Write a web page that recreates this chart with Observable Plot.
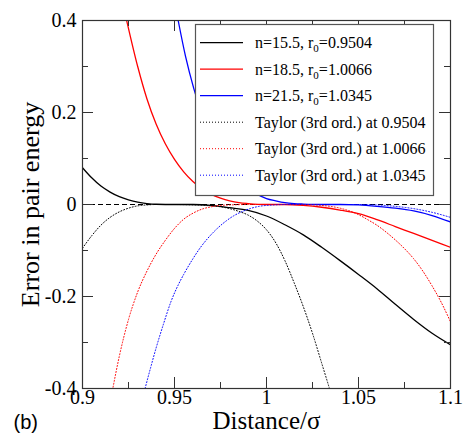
<!DOCTYPE html>
<html>
<head>
<meta charset="utf-8">
<script src="https://cdn.jsdelivr.net/npm/d3@7"></script>
<script src="https://cdn.jsdelivr.net/npm/@observablehq/plot@0.6"></script>
<style>
  html, body { margin: 0; padding: 0; background: #fff; }
</style>
</head>
<body>
<div id="chart"></div>
<script>
// ---- tick values ----
const xTicks = [0.9, 0.95, 1, 1.05, 1.1];
const xMinor = [0.925, 0.975, 1.025, 1.075];
const yTicks = [-0.4, -0.2, 0, 0.2, 0.4];
const yMinor = [-0.3, -0.1, 0.1, 0.3];

// ---- legend text ----
const nValues = [15.5, 18.5, 21.5];
const r0Labels = ["0.9504", "1.0066", "1.0345"];
const colors = ["#000000", "#ff0000", "#0000ff"];

// ---- series (x, error) ----
const blackSolid = [
  [0.900, 0.080], [0.905, 0.058], [0.910, 0.040], [0.915, 0.027], [0.920, 0.017],
  [0.925, 0.010], [0.930, 0.005], [0.935, 0.002], [0.940, 0.0005], [0.950, 0],
  [0.960, 0], [0.970, -0.002], [0.980, -0.007], [0.990, -0.013], [1.000, -0.025],
  [1.010, -0.044], [1.020, -0.066], [1.030, -0.093], [1.040, -0.122], [1.050, -0.152],
  [1.060, -0.183], [1.070, -0.217], [1.080, -0.250], [1.090, -0.280], [1.100, -0.305]
];
const redSolid = [
  [0.924, 0.400], [0.930, 0.300], [0.935, 0.230], [0.940, 0.175], [0.945, 0.132],
  [0.950, 0.098], [0.955, 0.071], [0.960, 0.050], [0.965, 0.034], [0.970, 0.022],
  [0.975, 0.014], [0.980, 0.008], [0.985, 0.004], [0.990, 0.002], [1.000, 0],
  [1.010, 0], [1.020, -0.002], [1.030, -0.006], [1.040, -0.012], [1.050, -0.020],
  [1.060, -0.033], [1.070, -0.048], [1.080, -0.063], [1.090, -0.078], [1.100, -0.093]
];
const blueSolid = [
  [0.952, 0.400], [0.956, 0.322], [0.9605, 0.252], [0.965, 0.195], [0.970, 0.145],
  [0.975, 0.105], [0.980, 0.075], [0.985, 0.052], [0.990, 0.035], [0.995, 0.022],
  [1.000, 0.013], [1.005, 0.008], [1.010, 0.004], [1.015, 0.002], [1.020, 0.001],
  [1.030, 0], [1.040, 0], [1.050, -0.001], [1.060, -0.004], [1.070, -0.008],
  [1.080, -0.014], [1.090, -0.024], [1.100, -0.038]
];
const blackTaylor = [
  [0.900, -0.095], [0.905, -0.068], [0.910, -0.045], [0.915, -0.028], [0.920, -0.016],
  [0.925, -0.008], [0.930, -0.003], [0.935, -0.001], [0.940, 0], [0.950, 0],
  [0.960, -0.001], [0.970, -0.003], [0.975, -0.005], [0.980, -0.009], [0.985, -0.015],
  [0.990, -0.023], [0.995, -0.036], [1.000, -0.055], [1.005, -0.083], [1.010, -0.122],
  [1.015, -0.170], [1.020, -0.222], [1.025, -0.280], [1.030, -0.345], [1.035, -0.410]
];
const redTaylor = [
  [0.916, -0.410], [0.920, -0.330], [0.925, -0.250], [0.930, -0.190], [0.935, -0.145],
  [0.940, -0.108], [0.945, -0.078], [0.950, -0.052], [0.955, -0.032], [0.960, -0.019],
  [0.965, -0.010], [0.970, -0.005], [0.975, -0.002], [0.980, -0.001], [0.990, 0],
  [1.000, 0], [1.010, 0], [1.020, 0], [1.030, -0.002], [1.040, -0.008],
  [1.050, -0.022], [1.055, -0.033], [1.060, -0.045], [1.065, -0.060], [1.070, -0.077],
  [1.075, -0.096], [1.080, -0.118], [1.085, -0.145], [1.090, -0.177], [1.095, -0.213],
  [1.100, -0.255]
];
const blueTaylor = [
  [0.934, -0.400], [0.937, -0.355], [0.940, -0.312], [0.944, -0.260], [0.948, -0.212],
  [0.952, -0.175], [0.955, -0.152], [0.960, -0.118], [0.964, -0.094], [0.968, -0.074],
  [0.973, -0.053], [0.978, -0.036], [0.982, -0.025], [0.987, -0.015], [0.991, -0.009],
  [0.996, -0.004], [1.004, -0.001], [1.010, 0], [1.020, 0], [1.030, 0],
  [1.040, 0], [1.050, 0], [1.060, -0.001], [1.070, -0.004], [1.080, -0.009],
  [1.090, -0.017], [1.100, -0.028]
];

const solids = [blackSolid, redSolid, blueSolid];
const taylors = [blackTaylor, redTaylor, blueTaylor];

const W = 464, H = 434;
const mL = 82, mR = 14, mT = 20, mB = 46;
const frameH = H - mT - mB;
const frameW = W - mL - mR;
const majorLen = 11, minorLen = 6;
const serif = "Liberation Serif";

const lineMarks = [];
solids.forEach((s, i) => {
  lineMarks.push(Plot.line(s, {x: d => d[0], y: d => d[1], stroke: colors[i], strokeWidth: 1.3, curve: "monotone-x", clip: true}));
});
taylors.forEach((s, i) => {
  lineMarks.push(Plot.line(s, {x: d => d[0], y: d => d[1], stroke: colors[i], strokeWidth: 1, strokeDasharray: "1 2", curve: "monotone-x", clip: true}));
});

const chart = Plot.plot({
  width: W,
  height: H,
  marginLeft: mL, marginRight: mR, marginTop: mT, marginBottom: mB,
  style: {fontFamily: serif, fontSize: "20px", background: "#fff", color: "#000"},
  x: {domain: [0.9, 1.1]},
  y: {domain: [-0.4, 0.4]},
  marks: [
    Plot.ruleY([0], {stroke: "#000", strokeWidth: 1, strokeDasharray: "5 3"}),
    ...lineMarks,
    // inward ticks: bottom, top
    Plot.ruleX(xTicks, {x: d => d, insetTop: frameH - majorLen, stroke: "#333"}),
    Plot.ruleX(xMinor, {x: d => d, insetTop: frameH - minorLen, stroke: "#333"}),
    Plot.ruleX(xTicks, {x: d => d, insetBottom: frameH - majorLen, stroke: "#333"}),
    Plot.ruleX(xMinor, {x: d => d, insetBottom: frameH - minorLen, stroke: "#333"}),
    // inward ticks: left, right
    Plot.ruleY(yTicks, {y: d => d, insetRight: frameW - majorLen, stroke: "#333"}),
    Plot.ruleY(yMinor, {y: d => d, insetRight: frameW - minorLen, stroke: "#333"}),
    Plot.ruleY(yTicks, {y: d => d, insetLeft: frameW - majorLen, stroke: "#333"}),
    Plot.ruleY(yMinor, {y: d => d, insetLeft: frameW - minorLen, stroke: "#333"}),
    Plot.frame({stroke: "#333", strokeWidth: 1.2}),
    Plot.axisX({ticks: xTicks, tickSize: 0, tickPadding: 1, tickFormat: d => String(d), fontSize: 20, fontFamily: serif, label: null}),
    Plot.axisY({ticks: yTicks, tickSize: 0, tickPadding: 6, tickFormat: d => String(d), fontSize: 20, fontFamily: serif, label: null}),
    Plot.text(["Error in pair energy"], {frameAnchor: "left", dx: -52, rotate: -90, textAnchor: "middle", lineAnchor: "middle", fontSize: 26, fontFamily: serif, text: d => d}),
    Plot.text(["Distance/σ"], {frameAnchor: "bottom", dy: 32, textAnchor: "middle", lineAnchor: "middle", fontSize: 25, fontFamily: serif, text: d => d}),
    Plot.text(["(b)"], {frameAnchor: "bottom-left", dx: -69, dy: 34, textAnchor: "start", lineAnchor: "middle", fontSize: 20, fontFamily: "Liberation Sans", text: d => d})
  ]
});

document.getElementById("chart").appendChild(chart);

const svg = d3.select(chart);
// make sure tick labels use the serif face
svg.selectAll("g[aria-label='x-axis tick label'], g[aria-label='y-axis tick label']")
  .style("font-variant", "normal")
  .style("font-family", serif)
  .selectAll("text").style("font-family", serif);

// ---- legend ----
const lg = svg.append("g").attr("font-family", serif).attr("font-size", 16)
  .attr("fill", "#000").attr("text-anchor", "start");
lg.append("rect").attr("x", 195.5).attr("y", 24.5).attr("width", 238).attr("height", 171)
  .attr("fill", "#fff").attr("stroke", "#555").attr("stroke-width", 1.2);
const rowY0 = 42.7, rowStep = 26.5;
const rows = [];
nValues.forEach((n, i) => rows.push({kind: "solid", color: colors[i], n, r0: r0Labels[i]}));
r0Labels.forEach((r0, i) => rows.push({kind: "taylor", color: colors[i], r0}));
rows.forEach((r, k) => {
  const y = rowY0 + k * rowStep;
  lg.append("line").attr("x1", 200).attr("x2", 243).attr("y1", y).attr("y2", y)
    .attr("stroke", r.color).attr("stroke-width", r.kind === "solid" ? 1.3 : 1)
    .attr("stroke-dasharray", r.kind === "solid" ? null : "1 2");
  const t = lg.append("text").attr("x", 255).attr("y", y).attr("dy", "0.35em").attr("text-anchor", "start");
  if (r.kind === "solid") {
    t.append("tspan").text(`n=${r.n}, r`);
    t.append("tspan").attr("dy", 4).attr("font-size", 11).text("0");
    t.append("tspan").attr("dy", -4).text(`=${r.r0}`);
  } else {
    t.text(`Taylor (3rd ord.) at ${r.r0}`);
  }
});
</script>
</body>
</html>
